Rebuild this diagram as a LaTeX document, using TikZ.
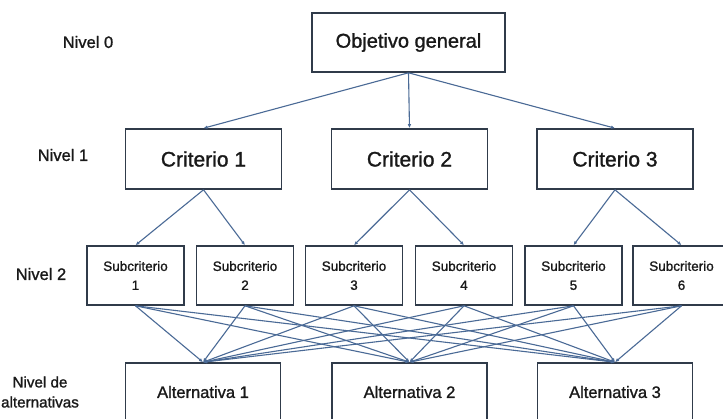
\documentclass[tikz,border=0pt]{standalone}
\usepackage{fontspec}
\setmainfont{Liberation Sans}[FakeBold=1.2]
\usetikzlibrary{arrows.meta}
\definecolor{edgeblue}{HTML}{4A6A96}
\definecolor{boxline}{HTML}{303B4A}
\begin{document}
\begin{tikzpicture}[x=1pt,y=-1pt,
  box/.style={draw=boxline, line width=1.6pt, fill=white, inner sep=0pt,
    align=center, text=black!90},
  topbox/.style={box, minimum width=193pt, minimum height=59pt,
    font=\fontsize{20}{24}\selectfont},
  critbox/.style={box, minimum width=156pt, minimum height=60pt,
    font=\fontsize{21}{25}\selectfont},
  subbox/.style={box, minimum width=97pt, minimum height=59pt,
    font=\fontsize{13.5}{19}\selectfont},
  altbox/.style={box, minimum width=155pt, minimum height=58pt,
    font=\fontsize{16.5}{20}\selectfont},
  lvl/.style={align=center, text=black!90, font=\fontsize{16.5}{20}\selectfont},
  link/.style={draw=edgeblue, line width=1.1pt,
    -{Latex[length=4pt,width=3.5pt]}}
]
% page area
\fill[white] (0,0) rectangle (723,418);
\useasboundingbox (0,0) rectangle (723,418);

% level labels
\node[lvl] (l0) at (88,42) {Nivel 0};
\node[lvl] (l1) at (63,155) {Nivel 1};
\node[lvl] (l2) at (41,274) {Nivel 2};
\node[lvl, font=\fontsize{15.2}{20}\selectfont] (l3) at (40,392) {Nivel de\\alternativas};

% goal
\node[topbox] (goal) at (408.5,42.5) {Objetivo general};

% criteria
\node[critbox] (c1) at (203.5,159) {Criterio 1};
\node[critbox] (c2) at (409.5,159) {Criterio 2};
\node[critbox] (c3) at (615,159) {Criterio 3};

% sub-criteria
\node[subbox] (s1) at (135.5,275.5) {Subcriterio\\1};
\node[subbox] (s2) at (245,275.5) {Subcriterio\\2};
\node[subbox] (s3) at (354,275.5) {Subcriterio\\3};
\node[subbox] (s4) at (464,275.5) {Subcriterio\\4};
\node[subbox] (s5) at (573.5,275.5) {Subcriterio\\5};
\node[subbox] (s6) at (681.5,275.5) {Subcriterio\\6};

% alternatives
\node[altbox] (a1) at (203,392) {Alternativa 1};
\node[altbox] (a2) at (409.5,392) {Alternativa 2};
\node[altbox] (a3) at (615,392) {Alternativa 3};

% goal -> criteria
\foreach \c in {c1,c2,c3}
  \draw[link] (goal.south) -- (\c.north);

% criteria -> sub-criteria
\draw[link] (c1.south) -- (s1.north);
\draw[link] (c1.south) -- (s2.north);
\draw[link] (c2.south) -- (s3.north);
\draw[link] (c2.south) -- (s4.north);
\draw[link] (c3.south) -- (s5.north);
\draw[link] (c3.south) -- (s6.north);

% every sub-criterion -> every alternative
\foreach \s in {s1,s2,s3,s4,s5,s6}
  \foreach \a in {a1,a2,a3}
    \draw[link] (\s.south) -- (\a.north);
\end{tikzpicture}
\end{document}
